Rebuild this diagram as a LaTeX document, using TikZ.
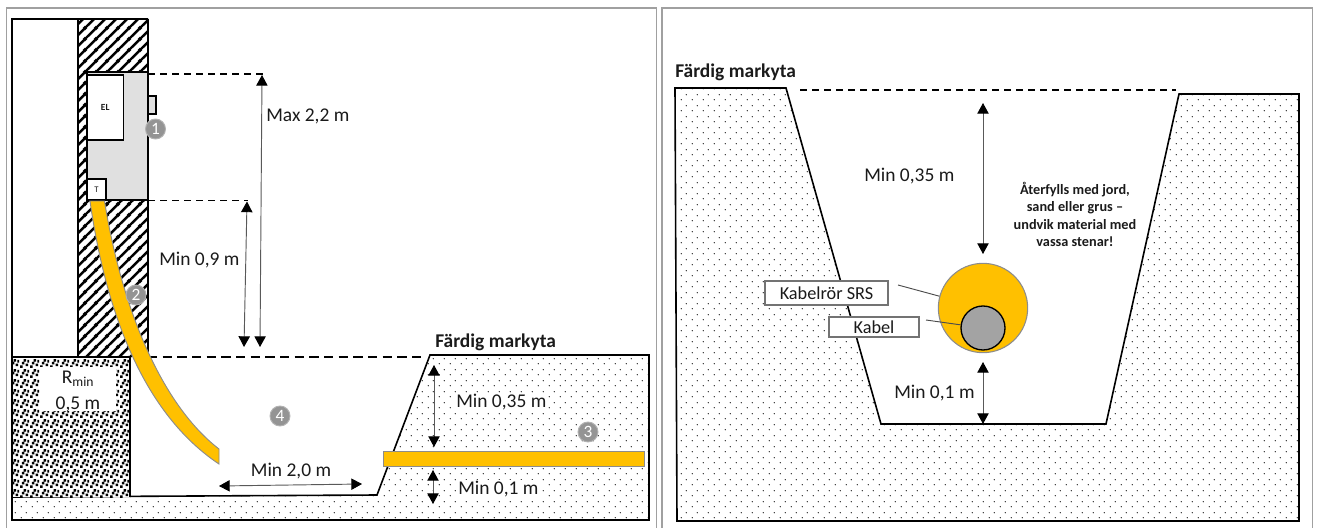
\documentclass[tikz,border=0pt]{standalone}
\usepackage{fontspec}
\setmainfont{Carlito}
\usetikzlibrary{arrows.meta,patterns}
\definecolor{cableY}{HTML}{FFC000}
\definecolor{cableE}{HTML}{8C8C8C}
\definecolor{panelE}{HTML}{A0A0A0}
\definecolor{txt}{HTML}{1A1A1A}
\pgfdeclarepatternformonly{sparsedots}{\pgfqpoint{-1pt}{-1pt}}{\pgfqpoint{7.25pt}{7.25pt}}{\pgfqpoint{8.25pt}{8.25pt}}{%
  \pgfpathcircle{\pgfqpoint{0pt}{0pt}}{0.5pt}%
  \pgfpathcircle{\pgfqpoint{4.125pt}{4.125pt}}{0.5pt}%
  \pgfusepath{fill}}
\pgfdeclarepatternformonly{wallhatch}{\pgfqpoint{0pt}{0pt}}{\pgfqpoint{8pt}{8pt}}{\pgfqpoint{8pt}{8pt}}{%
  \pgfsetlinewidth{1.9pt}%
  \pgfpathmoveto{\pgfqpoint{-1pt}{-1pt}}\pgfpathlineto{\pgfqpoint{9pt}{9pt}}%
  \pgfpathmoveto{\pgfqpoint{-5pt}{3pt}}\pgfpathlineto{\pgfqpoint{5pt}{13pt}}%
  \pgfpathmoveto{\pgfqpoint{3pt}{-5pt}}\pgfpathlineto{\pgfqpoint{13pt}{5pt}}%
  \pgfusepath{stroke}}
\pgfdeclarepatternformonly{gravel}{\pgfqpoint{0pt}{0pt}}{\pgfqpoint{7.5pt}{7.5pt}}{\pgfqpoint{7.5pt}{7.5pt}}{%
  \pgfpathrectangle{\pgfqpoint{0pt}{0pt}}{\pgfqpoint{2.1pt}{2.1pt}}%
  \pgfpathrectangle{\pgfqpoint{1.5pt}{3pt}}{\pgfqpoint{2.1pt}{2.1pt}}%
  \pgfpathrectangle{\pgfqpoint{3pt}{5.25pt}}{\pgfqpoint{2.1pt}{2.1pt}}%
  \pgfpathrectangle{\pgfqpoint{4.5pt}{1.5pt}}{\pgfqpoint{2.1pt}{2.1pt}}%
  \pgfpathrectangle{\pgfqpoint{6pt}{4.5pt}}{\pgfqpoint{1.5pt}{2.1pt}}%
  \pgfusepath{fill}}
\tikzset{
  panel/.style={draw=panelE,line width=0.8pt},
  outline/.style={draw=black,line width=1.2pt},
  soil/.style={pattern=sparsedots,pattern color=black},
  dim/.style={draw=black!65,line width=0.7pt,{Triangle[width=8.5pt,length=8pt,color=black]}-{Triangle[width=8.5pt,length=8pt,color=black]}},
  dimline/.style={draw=black,line width=1pt,dash pattern=on 5.5pt off 3.5pt},
  dimthick/.style={draw=black,line width=1.4pt,dash pattern=on 7pt off 4pt},
  cable/.style={fill=cableY,draw=cableE,line width=0.7pt},
  num/.style={circle,fill=black!42,draw=black!30,line width=0.7pt,minimum size=15pt,inner sep=0pt,text=white,font=\fontsize{13}{13}\selectfont},
  lab/.style={text=txt,inner sep=0pt,font=\fontsize{14.6}{16}\selectfont},
  labsoil/.style={lab,fill=white,inner sep=1.5pt},
  labbox/.style={draw=black!55,fill=white,line width=0.8pt,inner sep=0pt,text=txt,font=\fontsize{13.7}{15}\selectfont},
  head/.style={text=txt,inner sep=0pt,font=\bfseries\fontsize{14.6}{16}\selectfont},
  leader/.style={draw=black!70,line width=0.7pt},
  tag/.style={draw=black,line width=1pt,fill=white,inner sep=0pt,text=txt}
}
\begin{document}
\begin{tikzpicture}[x=0.75pt,y=-0.75pt]
\useasboundingbox (0,0) rectangle (1317,528);
% panels
\draw[panel] (6.5,530) -- (6.5,8) -- (656.5,8) -- (656.5,530);
\draw[panel] (662,530) -- (662,8) -- (1312.5,8) -- (1312.5,530);
% ---- left panel
\path[fill=white,outline] (12,357) -- (12,19) -- (78,19) -- (78,357);
\path[fill=white] (78,19) rectangle (148,357);
\path[pattern=wallhatch,pattern color=black] (78,19) rectangle (148,357);
\draw[outline] (78,357) -- (78,19);
\draw[draw=black,line width=0.9pt] (148,19) -- (148,357);
\draw[draw=black,line width=0.9pt] (78,19) -- (148,19);
% ground
\path[fill=white] (12,497) -- (377,495) -- (430,355) -- (649,355) -- (649,520) -- (12,520) -- cycle;
\path[soil] (12,497) -- (377,495) -- (430,355) -- (649,355) -- (649,520) -- (12,520) -- cycle;
\draw[outline] (12,497) -- (377,495) -- (430,355) -- (649,355) -- (649,520) -- (12,520) -- cycle;
% Rmin block
\path[fill=white] (12,357) rectangle (130,497);
\path[pattern=gravel,pattern color=black] (12,357) rectangle (130,497);
\draw[outline] (12,497) -- (12,357) -- (130,357) -- (130,497);
\node[fill=white,minimum width=57pt,minimum height=33pt,inner sep=0pt] (rbox) at (78,389) {};
\node[lab] (rmin) at (78,379) {R\textsubscript{min}};
\node[lab] (rval) at (78,404) {0,5 m};
% electrical cabinet
\node[draw=black,line width=0.9pt,fill=black!12,minimum width=45.75pt,minimum height=96pt,inner sep=0pt] (cab) at (117.5,136) {};
\node[tag,minimum width=27.4pt,minimum height=48.75pt,font=\bfseries\fontsize{7}{7}\selectfont] (el) at (105.2,107.5) {EL};
\node[tag,minimum width=14.25pt,minimum height=15.75pt,font=\fontsize{6.5}{7}\selectfont] (t) at (96.5,189.5) {T};
\node[draw=black,line width=0.9pt,fill=black!12,minimum width=6pt,minimum height=13.5pt,inner sep=0pt] (sw) at (152,105) {};
% dashed references
\coordinate (maxA) at (148,74);
\coordinate (maxB) at (264,74);
\coordinate (minA) at (148,200.5);
\coordinate (minB) at (248,200.5);
\draw[dimline] (maxA) -- (maxB);
\draw[dimline] (minA) -- (minB);
\coordinate (gA) at (148,357);
\coordinate (gB) at (426,357);
\draw[dimthick] (gA) -- (gB);
% cable
\path[cable] (90,201) .. controls (104,300) and (138,410) .. (219,464) -- (219,449) .. controls (162,405) and (122,310) .. (104.5,201) -- cycle;
\path[cable] (383,451) rectangle (644,466);
% dims
\coordinate (a1) at (262,75); \coordinate (a2) at (260,347);
\coordinate (b1) at (247,201.5); \coordinate (b2) at (244,347);
\coordinate (c1) at (219,486); \coordinate (c2) at (362,484);
\coordinate (d1) at (434,365); \coordinate (d2) at (434,447);
\coordinate (e1) at (433,470); \coordinate (e2) at (433,504);
\draw[dim] (a1) -- (a2);
\draw[dim] (b1) -- (b2);
\draw[dim] (c1) -- (c2);
\draw[dim] (d1) -- (d2);
\draw[dim] (e1) -- (e2);
\node[lab,anchor=west] (l1) at (266,116.5) {Max 2,2 m};
\node[lab,anchor=west] (l2) at (159,260.5) {Min 0,9 m};
\node[lab] (l3) at (291,471.5) {Min 2,0 m};
\node[labsoil,anchor=west] (l4) at (454,402.5) {Min 0,35 m};
\node[labsoil,anchor=west] (l5) at (456,489.5) {Min 0,1 m};
\node[head,anchor=west] (h1) at (435,342) {Färdig markyta};
\node[num] (n1) at (155.5,129) {1};
\node[num] (n2) at (136,295) {2};
\node[num] (n3) at (588,432) {3};
\node[num] (n4) at (280,416) {4};
% ---- right panel
\path[fill=white] (675,88) -- (786,88) -- (881,424) -- (1106,424) -- (1179,94) -- (1299,94) -- (1299,521) -- (677,521) -- cycle;
\path[soil] (675,88) -- (786,88) -- (881,424) -- (1106,424) -- (1179,94) -- (1299,94) -- (1299,521) -- (677,521) -- cycle;
\draw[outline] (675,88) -- (786,88) -- (881,424) -- (1106,424) -- (1179,94) -- (1299,94) -- (1299,521) -- (677,521) -- cycle;
\coordinate (tA) at (800,90);
\coordinate (tB) at (1176,90);
\draw[dimline] (tA) -- (tB);
\node[head,anchor=west] (h2) at (675,72) {Färdig markyta};
\node[circle,fill=cableY,draw=cableE,line width=0.8pt,minimum size=67pt,inner sep=0pt] (pipe) at (983,308) {};
\node[circle,fill=black!36,draw=black,line width=1pt,minimum size=33pt,inner sep=0pt] (wire) at (983,328) {};
\coordinate (f1) at (983,103); \coordinate (f2) at (983,254);
\coordinate (g1) at (983,362); \coordinate (g2) at (983,424);
\draw[dim] (f1) -- (f2);
\draw[dim] (g1) -- (g2);
\node[lab,anchor=west] (l6) at (864,176.5) {Min 0,35 m};
\node[lab,anchor=west] (l7) at (894,393.5) {Min 0,1 m};
\node[labbox,minimum width=92.25pt,minimum height=18pt] (kr) at (826.5,293) {Kabelrör SRS};
\node[labbox,minimum width=67.5pt,minimum height=15pt] (kb) at (874,327) {Kabel};
\coordinate (krL) at (898,285);
\coordinate (kbL) at (926,320);
\draw[leader] (krL) -- (pipe);
\draw[leader] (kbL) -- (wire);
\node[head,align=center,font=\bfseries\fontsize{10.7}{13}\selectfont] (note) at (1075,214.5) {Återfylls med jord,\\sand eller grus –\\undvik material med\\vassa stenar!};
\end{tikzpicture}
\end{document}
